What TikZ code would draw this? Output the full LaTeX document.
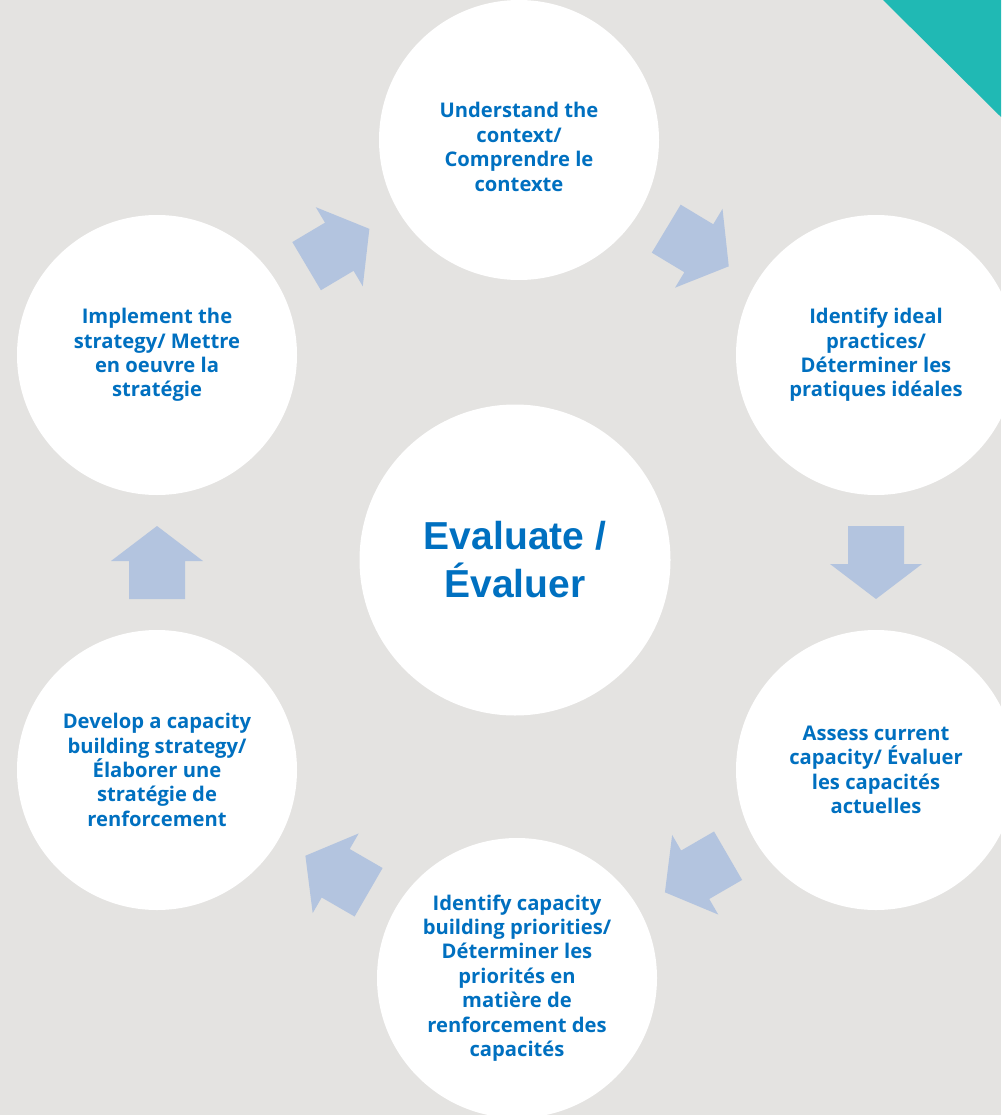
\documentclass[tikz,border=0pt]{standalone}
\usepackage{fontspec}
\setmainfont{Open Sans}
\newfontfamily\arialfont{Liberation Sans}
\usetikzlibrary{calc}
\definecolor{bggray}{HTML}{E4E3E1}
\definecolor{tealc}{HTML}{20B9B4}
\definecolor{arrowfill}{HTML}{B3C4DF}
\definecolor{txtblue}{HTML}{0070C0}
\newcommand\flowarrow[2]{%
  \coordinate (m) at ($(#1.center)!0.5!(#2.center)$);
  \coordinate (bk) at ($(m)!-36.5pt!(#2.center)$);
  \coordinate (hb) at ($(m)!1.5pt!(#2.center)$);
  \coordinate (tp) at ($(m)!36.5pt!(#2.center)$);
  \fill[arrowfill] ($(bk)!28pt!90:(#2.center)$) -- ($(hb)!28pt!90:(#2.center)$)
    -- ($(hb)!46pt!90:(#2.center)$) -- (tp) -- ($(hb)!46pt!-90:(#2.center)$)
    -- ($(hb)!28pt!-90:(#2.center)$) -- ($(bk)!28pt!-90:(#2.center)$) -- cycle;
}
\begin{document}
\begin{tikzpicture}[x=1pt,y=-1pt,
  stagetext/.style={inner sep=0pt, align=center, text=txtblue,
    font=\bfseries\fontsize{20.2}{24.4}\selectfont},
  stagecircle/.style={circle, fill=white, minimum size=280pt, stagetext}]
\useasboundingbox (0,0) rectangle (1001,1115);
\clip (0,0) rectangle (1001,1115);
\fill[bggray] (0,0) rectangle (1001,1115);
\fill[tealc] (883,0) -- (1001,0) -- (1001,117) -- cycle;

\node[stagecircle] (ctx) at (519,140) {};
\node[stagetext] (ctxlabel) at ($(ctx.center)+(0,7)$) {Understand the\\context/\\Comprendre le\\contexte};
\node[stagecircle] (ideal) at (876,355) {Identify ideal\\practices/\\Déterminer les\\pratiques idéales};
\node[stagecircle] (assess) at (876,770) {Assess current\\capacity/ Évaluer\\les capacités\\actuelles};
\node[stagecircle] (prio) at (517,978) {Identify capacity\\building priorities/\\Déterminer les\\priorités en\\matière de\\renforcement des\\capacités};
\node[stagecircle] (develop) at (157,770) {Develop a capacity\\building strategy/\\Élaborer une\\stratégie de\\renforcement};
\node[stagecircle] (impl) at (157,355) {Implement the\\strategy/ Mettre\\en oeuvre la\\stratégie};
\node[circle, fill=white, minimum size=311pt, inner sep=0pt, align=center, text=txtblue,
  font=\arialfont\bfseries\fontsize{39}{48}\selectfont] (eval) at (515,560) {Evaluate /\\Évaluer};

\flowarrow{impl}{ctx}
\flowarrow{ctx}{ideal}
\flowarrow{ideal}{assess}
\flowarrow{assess}{prio}
\flowarrow{prio}{develop}
\flowarrow{develop}{impl}
\end{tikzpicture}
\end{document}
